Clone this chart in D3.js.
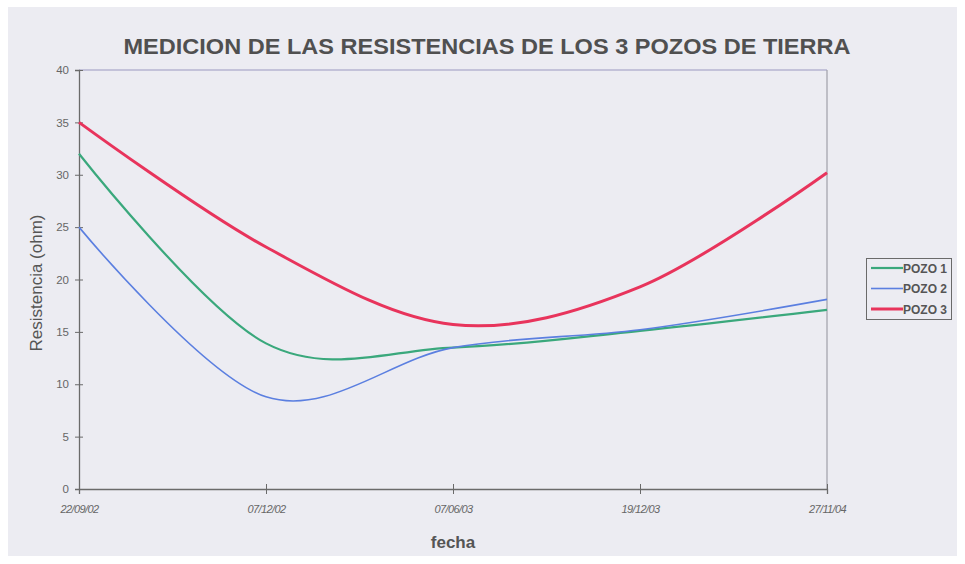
<!DOCTYPE html>
<html><head><meta charset="utf-8">
<script src="https://cdn.jsdelivr.net/npm/d3@7"></script>
<style>body{margin:0;background:#fff}svg{display:block}</style>
</head><body>
<svg id="c" width="965" height="564"></svg>
<script>
const categories = ["22/09/02","07/12/02","07/06/03","19/12/03","27/11/04"];
const pozo1 = [32, 13.9, 13.5, 15.1, 17.1];
const pozo2 = [25, 8.8, 13.5, 15.2, 18.1];
const pozo3 = [35, 23.1, 15.7, 19.3, 30.2];
const seriesNames = ["POZO 1","POZO 2","POZO 3"];
const seriesColors = ["#3aa87c","#5b7fe0","#e8345c"];
const seriesWidths = [2.2, 1.6, 3];
const yTicks = [0,5,10,15,20,25,30,35,40];

const svg = d3.select("#c");
svg.append("rect").attr("x",8).attr("y",7).attr("width",949).attr("height",549).attr("fill","#ececf2");

const L=79, R=827, T=70, B=489;
const x = d3.scalePoint().domain(categories).range([L,R]);
const y = d3.scaleLinear().domain([0,40]).range([B,T]);

// plot border top & right
svg.append("line").attr("x1",L).attr("x2",R).attr("y1",T).attr("y2",T).attr("stroke","#9a98c0").attr("stroke-width",1);
svg.append("line").attr("x1",R).attr("x2",R).attr("y1",T).attr("y2",B).attr("stroke","#a0a0a8").attr("stroke-width",1.2);

// Title
svg.append("text").attr("x",487).attr("y",54).attr("text-anchor","middle")
  .attr("font-family","Liberation Sans, Arial, sans-serif").attr("font-weight","bold").attr("font-size",22)
  .attr("textLength",727).attr("lengthAdjust","spacingAndGlyphs")
  .attr("fill","#505050").text("MEDICION DE LAS RESISTENCIAS DE LOS 3 POZOS DE TIERRA");

// Y axis
const yAxis = svg.append("g").attr("transform",`translate(${L},0)`)
  .call(d3.axisLeft(y).tickValues(yTicks).tickSize(4).tickPadding(6));
yAxis.select(".domain").attr("stroke","#6a6a6a").attr("stroke-width",1.3);
yAxis.selectAll(".tick line").attr("x2",4).attr("x1",-4).attr("stroke","#6a6a6a");
yAxis.selectAll(".tick text").attr("font-family","Liberation Sans, Arial, sans-serif").attr("font-size",11.5).attr("fill","#666");

// X axis
const xAxis = svg.append("g").attr("transform",`translate(0,${B})`)
  .call(d3.axisBottom(x).tickSize(5).tickPadding(11));
xAxis.select(".domain").attr("stroke","#6a6a6a").attr("stroke-width",1.3);
xAxis.selectAll(".tick line").attr("y1",-5).attr("y2",5).attr("stroke","#6a6a6a");
xAxis.selectAll(".tick text").attr("font-family","Liberation Sans Narrow, Liberation Sans, Arial, sans-serif")
  .attr("font-size",11).attr("font-style","italic").attr("fill","#666").attr("letter-spacing",-0.6);

// axis titles
svg.append("text").attr("transform","translate(42,283) rotate(-90)").attr("text-anchor","middle")
  .attr("font-family","Liberation Sans, Arial, sans-serif").attr("font-size",17).attr("fill","#555").text("Resistencia (ohm)");
svg.append("text").attr("x",453).attr("y",548).attr("text-anchor","middle")
  .attr("font-family","Liberation Sans, Arial, sans-serif").attr("font-weight","bold").attr("font-size",17).attr("fill","#555").text("fecha");

// lines
const data = [pozo1, pozo2, pozo3];
const line = d3.line().x((d,i)=>x(categories[i])).y(d=>y(d)).curve(d3.curveCatmullRom.alpha(0));
[2,0,1].forEach(k=>{
  svg.append("path").datum(data[k]).attr("d",line).attr("fill","none")
    .attr("stroke",seriesColors[k]).attr("stroke-width",seriesWidths[k]).attr("stroke-linejoin","round");
});

// legend
const lg = svg.append("g");
lg.append("rect").attr("x",866.5).attr("y",258.5).attr("width",85).attr("height",61)
  .attr("fill","none").attr("stroke","#6a6a6a").attr("stroke-width",1);
seriesNames.forEach((n,i)=>{
  const yy = 268 + i*20.5;
  lg.append("line").attr("x1",871).attr("x2",903).attr("y1",yy).attr("y2",yy)
    .attr("stroke",seriesColors[i]).attr("stroke-width",seriesWidths[i]);
  lg.append("text").attr("x",903).attr("y",yy+4.5).attr("font-family","Liberation Sans, Arial, sans-serif")
    .attr("font-weight","bold").attr("font-size",12).attr("fill","#555").text(n);
});
</script>
</body></html>
